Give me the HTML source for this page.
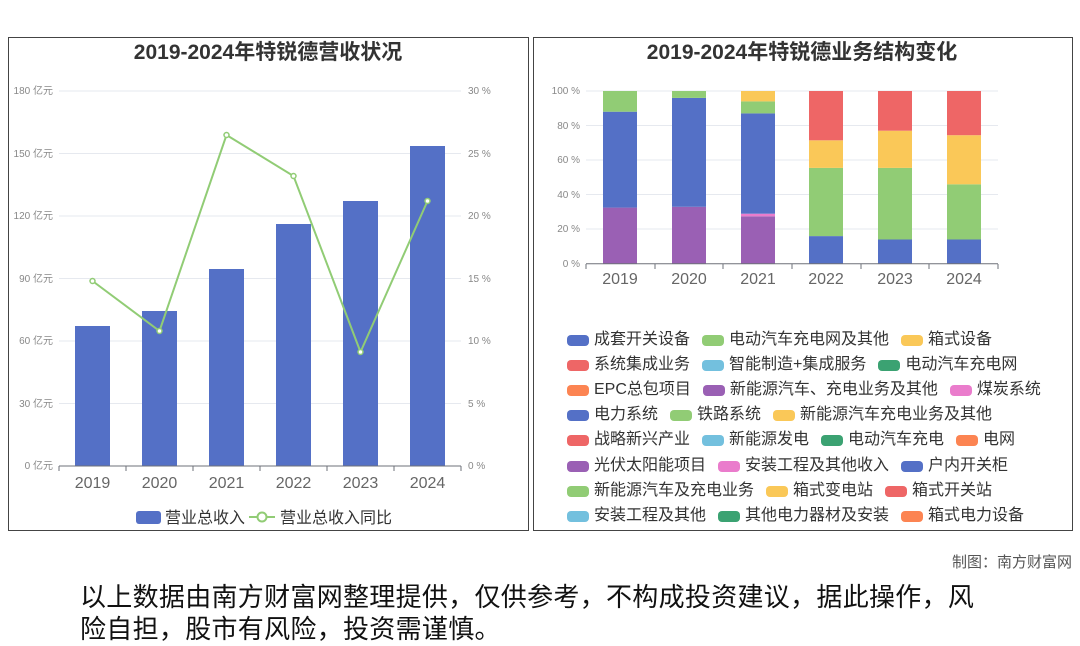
<!DOCTYPE html>
<html><head><meta charset="utf-8"><style>
body{margin:0;width:1080px;height:646px;background:#fff;overflow:hidden;font-family:"Liberation Sans","Noto Sans CJK SC",sans-serif;position:relative}
.p{position:absolute;border:1.5px solid #444;box-sizing:border-box}
.lg{position:absolute;left:567px;display:flex;gap:12px;font-size:16px;color:#333;line-height:20px;white-space:nowrap}
.lg span{display:flex;align-items:center}
.lg i{display:inline-block;width:22px;height:11px;border-radius:4px;margin-right:5px}
</style></head><body>
<div class="p" style="left:8px;top:37px;width:521px;height:494px"></div>
<div class="p" style="left:533px;top:37px;width:540px;height:494px"></div>
<svg width="1080" height="646" style="position:absolute;left:0;top:0" font-family="Liberation Sans,Noto Sans CJK SC,sans-serif">
<text x="268" y="59" font-size="21" font-weight="bold" fill="#333" text-anchor="middle">2019-2024年特锐德营收状况</text>
<text x="802" y="59" font-size="21" font-weight="bold" fill="#333" text-anchor="middle">2019-2024年特锐德业务结构变化</text>
<g stroke="#e6e9ef" stroke-width="1">
<line x1="59" x2="461" y1="91" y2="91"/><line x1="59" x2="461" y1="153.5" y2="153.5"/><line x1="59" x2="461" y1="216" y2="216"/><line x1="59" x2="461" y1="278.5" y2="278.5"/><line x1="59" x2="461" y1="341" y2="341"/><line x1="59" x2="461" y1="403.5" y2="403.5"/>
</g>
<g font-size="10" fill="#888" text-anchor="end">
<text x="53" y="94">180 亿元</text><text x="53" y="157">150 亿元</text><text x="53" y="219">120 亿元</text><text x="53" y="282">90 亿元</text><text x="53" y="344">60 亿元</text><text x="53" y="407">30 亿元</text><text x="53" y="469">0 亿元</text>
</g>
<g font-size="10" fill="#888">
<text x="468" y="94">30 %</text><text x="468" y="157">25 %</text><text x="468" y="219">20 %</text><text x="468" y="282">15 %</text><text x="468" y="344">10 %</text><text x="468" y="407">5 %</text><text x="468" y="469">0 %</text>
</g>
<g fill="#5470c6">
<rect x="75" y="326" width="35" height="140"/><rect x="142" y="311" width="35" height="155"/><rect x="209" y="269" width="35" height="197"/><rect x="276" y="224" width="35" height="242"/><rect x="343" y="201" width="35" height="265"/><rect x="410" y="146" width="35" height="320"/>
</g>
<line x1="59" x2="461" y1="466" y2="466" stroke="#6e7079"/>
<g stroke="#6e7079"><line x1="59" x2="59" y1="466" y2="471"/><line x1="126" x2="126" y1="466" y2="471"/><line x1="193" x2="193" y1="466" y2="471"/><line x1="260" x2="260" y1="466" y2="471"/><line x1="327" x2="327" y1="466" y2="471"/><line x1="394" x2="394" y1="466" y2="471"/><line x1="461" x2="461" y1="466" y2="471"/></g>
<polyline points="92.5,281 159.5,331 226.5,135 293.5,176 360.5,352 427.5,201" fill="none" stroke="#91cc75" stroke-width="2"/>
<g fill="#fff" stroke="#91cc75" stroke-width="1.5"><circle cx="92.5" cy="281" r="2.5"/><circle cx="159.5" cy="331" r="2.5"/><circle cx="226.5" cy="135" r="2.5"/><circle cx="293.5" cy="176" r="2.5"/><circle cx="360.5" cy="352" r="2.5"/><circle cx="427.5" cy="201" r="2.5"/></g>
<g font-size="16" fill="#666" text-anchor="middle">
<text x="92.5" y="488">2019</text><text x="159.5" y="488">2020</text><text x="226.5" y="488">2021</text><text x="293.5" y="488">2022</text><text x="360.5" y="488">2023</text><text x="427.5" y="488">2024</text>
</g>
<rect x="136" y="511" width="25" height="13" rx="3" fill="#5470c6"/>
<text x="165" y="523" font-size="16" fill="#333">营业总收入</text>
<line x1="249" x2="275" y1="517" y2="517" stroke="#91cc75" stroke-width="2"/><circle cx="262" cy="517" r="4.5" fill="#fff" stroke="#91cc75" stroke-width="2"/>
<text x="280" y="523" font-size="16" fill="#333">营业总收入同比</text>
<g stroke="#e6e9ef"><line x1="586" x2="998" y1="91" y2="91"/><line x1="586" x2="998" y1="125.5" y2="125.5"/><line x1="586" x2="998" y1="160" y2="160"/><line x1="586" x2="998" y1="194.5" y2="194.5"/><line x1="586" x2="998" y1="229" y2="229"/></g>
<g font-size="10" fill="#888" text-anchor="end">
<text x="580" y="94">100 %</text><text x="580" y="129">80 %</text><text x="580" y="163">60 %</text><text x="580" y="198">40 %</text><text x="580" y="232">20 %</text><text x="580" y="267">0 %</text>
</g>
<g>
<rect x="603" y="207.6" width="34" height="56.1" fill="#9a60b4"/><rect x="603" y="111.7" width="34" height="95.9" fill="#5470c6"/><rect x="603" y="91" width="34" height="20.7" fill="#91cc75"/>
<rect x="672" y="206.8" width="34" height="56.9" fill="#9a60b4"/><rect x="672" y="97.9" width="34" height="108.9" fill="#5470c6"/><rect x="672" y="91" width="34" height="6.9" fill="#91cc75"/>
<rect x="741" y="216.3" width="34" height="47.4" fill="#9a60b4"/><rect x="741" y="213.7" width="34" height="2.6" fill="#ea7ccc"/><rect x="741" y="113.4" width="34" height="100.3" fill="#5470c6"/><rect x="741" y="101.4" width="34" height="12" fill="#91cc75"/><rect x="741" y="91" width="34" height="10.4" fill="#fac858"/>
<rect x="809" y="236.1" width="34" height="27.6" fill="#5470c6"/><rect x="809" y="167.9" width="34" height="68.2" fill="#91cc75"/><rect x="809" y="140.3" width="34" height="27.6" fill="#fac858"/><rect x="809" y="91" width="34" height="49.3" fill="#ee6666"/>
<rect x="878" y="239.5" width="34" height="24.2" fill="#5470c6"/><rect x="878" y="167.9" width="34" height="71.6" fill="#91cc75"/><rect x="878" y="130.7" width="34" height="37.2" fill="#fac858"/><rect x="878" y="91" width="34" height="39.7" fill="#ee6666"/>
<rect x="947" y="239.5" width="34" height="24.2" fill="#5470c6"/><rect x="947" y="184.3" width="34" height="55.2" fill="#91cc75"/><rect x="947" y="135.2" width="34" height="49.1" fill="#fac858"/><rect x="947" y="91" width="34" height="44.2" fill="#ee6666"/>
</g>
<line x1="586" x2="998" y1="263.7" y2="263.7" stroke="#6e7079"/>
<g stroke="#6e7079"><line x1="586" x2="586" y1="264" y2="269"/><line x1="655" x2="655" y1="264" y2="269"/><line x1="723" x2="723" y1="264" y2="269"/><line x1="792" x2="792" y1="264" y2="269"/><line x1="861" x2="861" y1="264" y2="269"/><line x1="929" x2="929" y1="264" y2="269"/><line x1="998" x2="998" y1="264" y2="269"/></g>
<g font-size="16" fill="#666" text-anchor="middle">
<text x="620" y="284">2019</text><text x="689" y="284">2020</text><text x="758" y="284">2021</text><text x="826" y="284">2022</text><text x="895" y="284">2023</text><text x="964" y="284">2024</text>
</g>
<text x="1072" y="567" font-size="15" fill="#555" text-anchor="end">制图：南方财富网</text>
</svg>
<div class="lg" style="top:330px"><span><i style="background:#5470c6"></i>成套开关设备</span><span><i style="background:#91cc75"></i>电动汽车充电网及其他</span><span><i style="background:#fac858"></i>箱式设备</span></div>
<div class="lg" style="top:355px"><span><i style="background:#ee6666"></i>系统集成业务</span><span><i style="background:#73c0de"></i>智能制造+集成服务</span><span><i style="background:#3ba272"></i>电动汽车充电网</span></div>
<div class="lg" style="top:380px"><span><i style="background:#fc8452"></i>EPC总包项目</span><span><i style="background:#9a60b4"></i>新能源汽车、充电业务及其他</span><span><i style="background:#ea7ccc"></i>煤炭系统</span></div>
<div class="lg" style="top:405px"><span><i style="background:#5470c6"></i>电力系统</span><span><i style="background:#91cc75"></i>铁路系统</span><span><i style="background:#fac858"></i>新能源汽车充电业务及其他</span></div>
<div class="lg" style="top:430px"><span><i style="background:#ee6666"></i>战略新兴产业</span><span><i style="background:#73c0de"></i>新能源发电</span><span><i style="background:#3ba272"></i>电动汽车充电</span><span><i style="background:#fc8452"></i>电网</span></div>
<div class="lg" style="top:456px"><span><i style="background:#9a60b4"></i>光伏太阳能项目</span><span><i style="background:#ea7ccc"></i>安装工程及其他收入</span><span><i style="background:#5470c6"></i>户内开关柜</span></div>
<div class="lg" style="top:481px"><span><i style="background:#91cc75"></i>新能源汽车及充电业务</span><span><i style="background:#fac858"></i>箱式变电站</span><span><i style="background:#ee6666"></i>箱式开关站</span></div>
<div class="lg" style="top:506px"><span><i style="background:#73c0de"></i>安装工程及其他</span><span><i style="background:#3ba272"></i>其他电力器材及安装</span><span><i style="background:#fc8452"></i>箱式电力设备</span></div>
<div style="position:absolute;left:80px;top:581px;width:1000px;font-size:26px;line-height:32px;color:#111;white-space:nowrap;letter-spacing:0.3px">以上数据由南方财富网整理提供，仅供参考，不构成投资建议，据此操作，风<br>险自担，股市有风险，投资需谨慎。</div>
</body></html>
